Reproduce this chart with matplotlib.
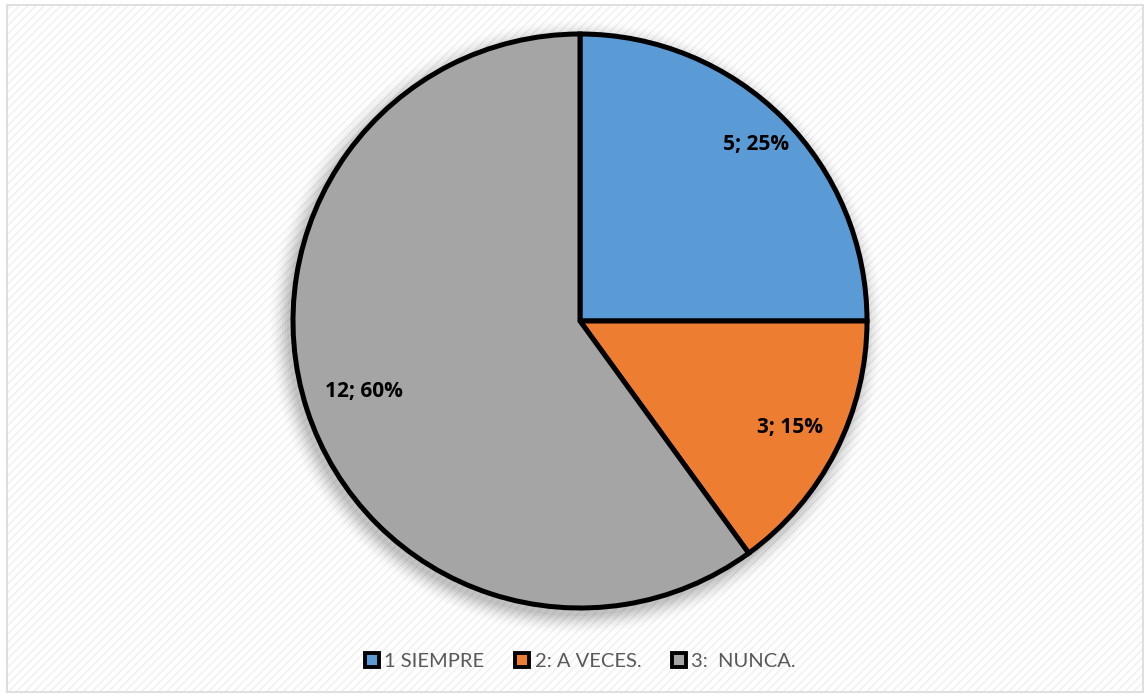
import matplotlib
matplotlib.use("Agg")
import matplotlib.pyplot as plt
import numpy as np
from matplotlib.patches import Rectangle, Circle
from matplotlib.lines import Line2D

categories = ["1 SIEMPRE", "2: A VECES.", "3:  NUNCA."]
values = [5, 3, 12]
colors = ["#5B9BD5", "#ED7D31", "#A5A5A5"]

W, H = 1145, 694
fig = plt.figure(figsize=(W / 100, H / 100), dpi=100)
fig.patch.set_facecolor("white")

# background hatch panel
bg = fig.add_axes([0, 0, 1, 1])
bg.set_xlim(0, W)
bg.set_ylim(H, 0)
bg.axis("off")
bg.add_patch(Rectangle((7, 5), W - 9, H - 7, facecolor="white",
                       edgecolor="#F0F0F0", hatch="////", linewidth=0))
bg.add_patch(Rectangle((7, 5), W - 9, H - 7, facecolor="none",
                       edgecolor="#D9D9D9", linewidth=1.2))
# soft shadow around pie
cx, cy, R = 580, 321, 287
for i, a in enumerate(np.linspace(0.05, 0.012, 8)):
    bg.add_patch(Circle((cx - 4, cy + 6), R + 2 + i * 2.5, facecolor="#000000",
                        alpha=a, linewidth=0))

ax = fig.add_axes([(cx - R) / W, (H - cy - R) / H, 2 * R / W, 2 * R / H])
wedges, _ = ax.pie(values, colors=colors, startangle=90, counterclock=False,
                   radius=1.0,
                   wedgeprops=dict(edgecolor="black", linewidth=3.6))
ax.set_xlim(-1, 1)
ax.set_ylim(-1, 1)
ax.set_aspect("equal")

total = sum(values)
dists = [0.87, 0.82, 0.79]
for w, v, d in zip(wedges, values, dists):
    ang = np.deg2rad((w.theta1 + w.theta2) / 2)
    ax.text(d * np.cos(ang), d * np.sin(ang), f"{v}; {round(100 * v / total)}%",
            ha="center", va="center", fontsize=15, fontweight="bold",
            family=["Open Sans", "DejaVu Sans"], color="black")

handles = [Line2D([0], [0], marker="s", linestyle="none", markersize=10,
                  markerfacecolor=c, markeredgecolor="black", markeredgewidth=2.8)
           for c in colors]
leg = fig.legend(handles, categories, loc="center", bbox_to_anchor=(580 / W, 1 - 661 / H),
                 ncol=3, frameon=False, handlelength=0.8, handletextpad=0.2,
                 columnspacing=1.5, prop=dict(family=["Lato", "DejaVu Sans"], size=14.5))
for t in leg.get_texts():
    t.set_color("#595959")

fig.savefig("out.png", dpi=100)
